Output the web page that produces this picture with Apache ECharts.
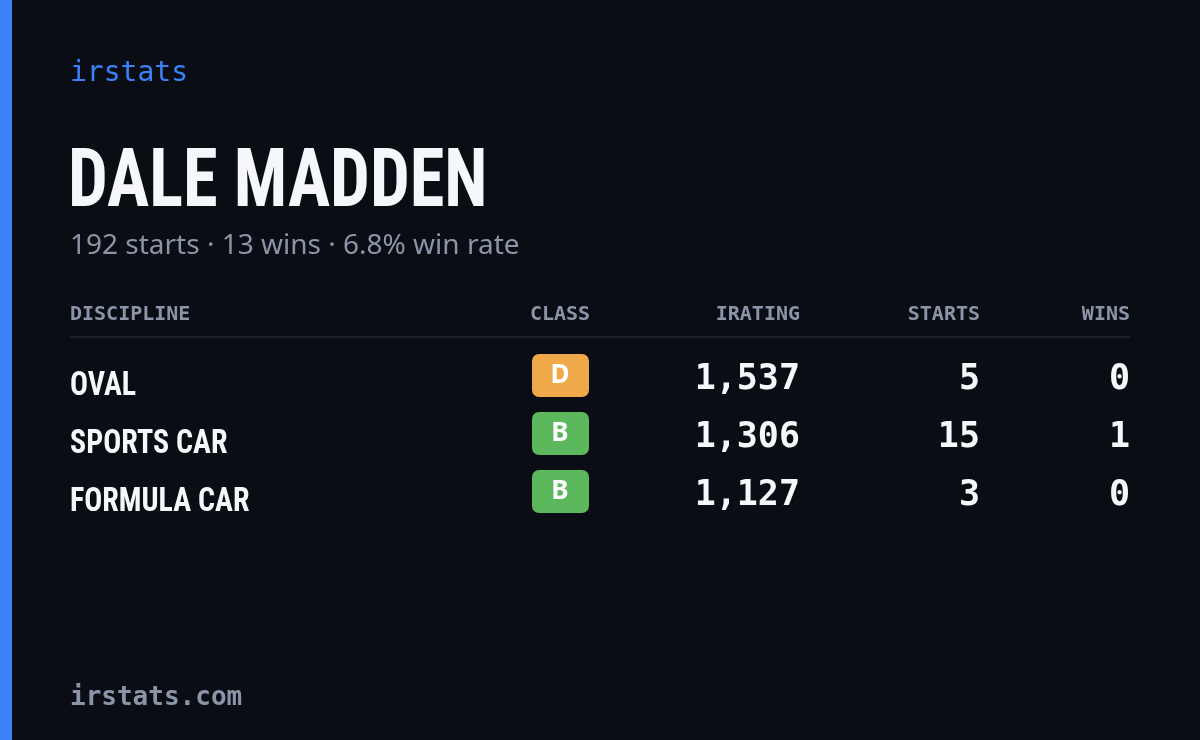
<!DOCTYPE html>
<html><head><meta charset="utf-8">
<script src="https://cdn.jsdelivr.net/npm/echarts@6/dist/echarts.min.js"></script>
<style>html,body{margin:0;padding:0;background:#0a0d14}#c{width:1200px;height:740px}</style>
</head><body><div id="c"></div>
<script>
const brand = "irstats";
const driver = "DALE MADDEN";
const summary = "192 starts · 13 wins · 6.8% win rate";
const footer = "irstats.com";
const headers = ["DISCIPLINE", "CLASS", "IRATING", "STARTS", "WINS"];
const disciplines = ["OVAL", "SPORTS CAR", "FORMULA CAR"];
const classes = ["D", "B", "B"];
const iratings = [1537, 1306, 1127];
const starts = [5, 15, 3];
const wins = [0, 1, 0];
const classColors = {D: "#f0a94a", B: "#5cb85c"};

const mono = "'DejaVu Sans Mono', monospace";
const cond = "'Liberation Sans Narrow', 'Roboto Condensed', 'DejaVu Sans Condensed', sans-serif";
const g = [];
g.push({type:'rect', shape:{x:0,y:0,width:12,height:740}, style:{fill:'#3b82f6'}});
g.push({type:'text', x:70, y:74, style:{text:brand, font:"500 28px "+mono, fill:'#3b82f6', verticalAlign:'middle'}});
g.push({type:'text', x:68, y:185, scaleX:0.86, style:{text:driver, font:"bold 82px "+cond, fill:'#f5f7fa', verticalAlign:'middle'}});
g.push({type:'text', x:70, y:246, style:{text:summary, font:"28px 'Noto Sans', sans-serif", fill:'#8b95a7', verticalAlign:'middle'}});
const hx = [70, 560, 800, 980, 1130], ha = ['left','center','right','right','right'];
headers.forEach((h,i)=>g.push({type:'text', x:hx[i], y:315, style:{text:h, font:"bold 20px "+mono, fill:'#8b95a7', align:ha[i], verticalAlign:'middle'}}));
g.push({type:'rect', shape:{x:70,y:336,width:1060,height:2}, style:{fill:'#1a1f2a'}});
disciplines.forEach((d,i)=>{
  const y = 378 + i*58;
  g.push({type:'text', x:70, y:y+8, scaleX:0.88, style:{text:d, font:"bold 34px "+cond, fill:'#f5f7fa', verticalAlign:'middle'}});
  g.push({type:'rect', shape:{x:532,y:y-24,width:57,height:43,r:7}, style:{fill:classColors[classes[i]]}});
  g.push({type:'text', x:560, y:y-2, style:{text:classes[i], font:"bold 26px 'Noto Sans', sans-serif", fill:'#ffffff', align:'center', verticalAlign:'middle'}});
  [iratings[i].toLocaleString('en-US'), String(starts[i]), String(wins[i])].forEach((t,j)=>
    g.push({type:'text', x:hx[j+2], y:y+2, style:{text:t, font:"bold 35px "+mono, fill:'#f5f7fa', align:'right', verticalAlign:'middle'}}));
});
g.push({type:'text', x:70, y:698, style:{text:footer, font:"bold 26px "+mono, fill:'#8b95a7', verticalAlign:'middle'}});
const chart = echarts.init(document.getElementById('c'));
chart.setOption({backgroundColor:'#0a0d14', graphic:g});
</script></body></html>
